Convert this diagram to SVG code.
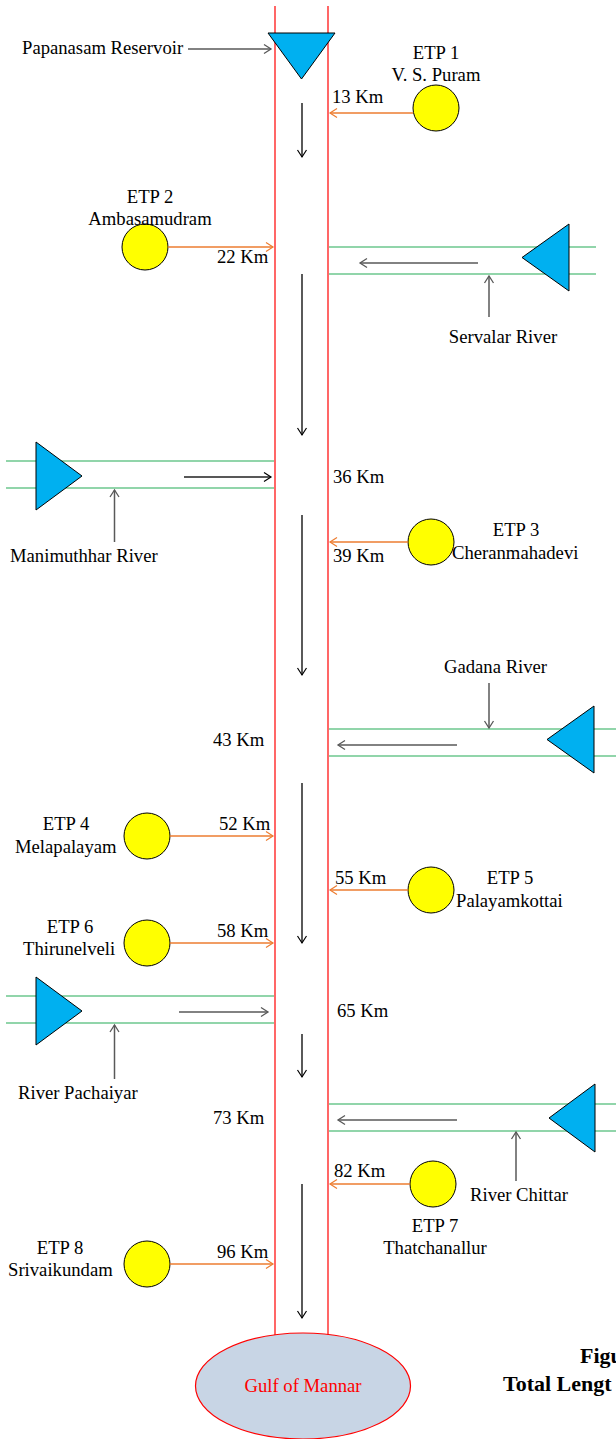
<svg xmlns="http://www.w3.org/2000/svg" width="616" height="1439" viewBox="0 0 616 1439">
<defs>
<style>
text{font-family:"Liberation Serif","Times New Roman",serif;font-size:18.67px;fill:#000}
.m{text-anchor:middle}
.b{font-weight:bold;font-size:22px}
.red{fill:none;stroke:#FF0000;stroke-width:1.2}
.grn{stroke:#6CC78E;stroke-width:1.5;fill:none}
.etp{fill:#FFFF00;stroke:#000;stroke-width:1}
.tri{fill:#00B0F0;stroke:#000;stroke-width:1}
.or{stroke:#ED7D31;stroke-width:1.3;fill:none;marker-end:url(#ao)}
.fl{stroke:#000;stroke-width:1.3;fill:none;marker-end:url(#ak)}
.gy{stroke:#595959;stroke-width:1.5;fill:none;marker-end:url(#ag)}
.bk{stroke:#202020;stroke-width:1.3;fill:none;marker-end:url(#ak)}
</style>
<marker id="ao" markerUnits="userSpaceOnUse" markerWidth="10" markerHeight="12" viewBox="-1 -6 10 12" refX="7" refY="0" orient="auto"><path d="M0,-4.5 L7,0 L0,4.5" fill="none" stroke="#ED7D31" stroke-width="1.2"/></marker>
<marker id="ak" markerUnits="userSpaceOnUse" markerWidth="10" markerHeight="12" viewBox="-1 -6 10 12" refX="7" refY="0" orient="auto"><path d="M0,-4.5 L7,0 L0,4.5" fill="none" stroke="#000" stroke-width="1.2"/></marker>
<marker id="ag" markerUnits="userSpaceOnUse" markerWidth="10" markerHeight="12" viewBox="-1 -6 10 12" refX="7" refY="0" orient="auto"><path d="M0,-4.5 L7,0 L0,4.5" fill="none" stroke="#595959" stroke-width="1.3"/></marker>
</defs>
<rect width="616" height="1439" fill="#FFFFFF"/>

<g id="river-channel">
<line class="red" x1="275" y1="6" x2="275" y2="1335"/>
<line class="red" x1="328" y1="6" x2="328" y2="1335"/>
</g>

<g id="gulf-of-mannar">
<ellipse cx="303" cy="1386" rx="107.5" ry="53" fill="#C8D5E5" stroke="#FF0000" stroke-width="1.2"/>
<text class="m" x="303" y="1392" style="fill:#FF0000">Gulf of Mannar</text>
</g>

<g id="papanasam-reservoir">
<polygon class="tri" points="268,33 335,33 301.5,79"/>
<text x="22" y="54">Papanasam Reservoir</text>
</g>

<g id="etp1">
<ellipse class="etp" cx="436" cy="108" rx="23" ry="23"/>
<text class="m" x="436" y="59">ETP 1</text>
<text class="m" x="436" y="81">V. S. Puram</text>
<text x="332" y="103">13 Km</text>
</g>

<g id="etp2">
<ellipse class="etp" cx="145" cy="247" rx="23" ry="23"/>
<text class="m" x="150" y="203">ETP 2</text>
<text class="m" x="150" y="225">Ambasamudram</text>
<text x="217" y="263">22 Km</text>
</g>

<g id="servalar-river">
<line class="grn" x1="329" y1="247" x2="596" y2="247"/>
<line class="grn" x1="329" y1="274" x2="596" y2="274"/>
<polygon class="tri" points="569,224 569,291 522,257.5"/>
<text class="m" x="503" y="343">Servalar River</text>
</g>

<g id="manimuthhar-river">
<line class="grn" x1="6" y1="461" x2="274" y2="461"/>
<line class="grn" x1="6" y1="488" x2="274" y2="488"/>
<polygon class="tri" points="36,442 36,510 82,476"/>
<text x="10" y="562">Manimuthhar River</text>
<text x="333" y="483">36 Km</text>
</g>

<g id="etp3">
<ellipse class="etp" cx="431" cy="542" rx="23" ry="23"/>
<text class="m" x="516" y="536">ETP 3</text>
<text x="452" y="559">Cheranmahadevi</text>
<text x="333" y="562">39 Km</text>
</g>

<g id="gadana-river">
<line class="grn" x1="329" y1="729" x2="616" y2="729"/>
<line class="grn" x1="329" y1="756" x2="616" y2="756"/>
<polygon class="tri" points="594,706 594,773 547,739.5"/>
<text x="444" y="673">Gadana River</text>
<text x="213" y="746">43 Km</text>
</g>

<g id="etp4">
<ellipse class="etp" cx="147" cy="836" rx="23" ry="23"/>
<text class="m" x="66" y="830">ETP 4</text>
<text x="15" y="853">Melapalayam</text>
<text x="219" y="830">52 Km</text>
</g>

<g id="etp5">
<ellipse class="etp" cx="431" cy="890" rx="23" ry="23"/>
<text class="m" x="510" y="884">ETP 5</text>
<text x="456" y="907">Palayamkottai</text>
<text x="335" y="884">55 Km</text>
</g>

<g id="etp6">
<ellipse class="etp" cx="147" cy="943" rx="23" ry="23"/>
<text class="m" x="70" y="933">ETP 6</text>
<text x="23" y="955">Thirunelveli</text>
<text x="217" y="937">58 Km</text>
</g>

<g id="river-pachaiyar">
<line class="grn" x1="6" y1="996" x2="274" y2="996"/>
<line class="grn" x1="6" y1="1023" x2="274" y2="1023"/>
<polygon class="tri" points="36,977 36,1045 82,1011"/>
<text x="18" y="1099">River Pachaiyar</text>
<text x="337" y="1017">65 Km</text>
</g>

<g id="river-chittar">
<line class="grn" x1="329" y1="1104" x2="616" y2="1104"/>
<line class="grn" x1="329" y1="1131" x2="616" y2="1131"/>
<polygon class="tri" points="595,1084 595,1152 549,1118"/>
<text x="470" y="1201">River Chittar</text>
<text x="213" y="1124">73 Km</text>
</g>

<g id="etp7">
<ellipse class="etp" cx="433" cy="1184" rx="23" ry="23"/>
<text class="m" x="435" y="1232">ETP 7</text>
<text class="m" x="435" y="1254">Thatchanallur</text>
<text x="334" y="1177">82 Km</text>
</g>

<g id="etp8">
<ellipse class="etp" cx="147" cy="1264" rx="23" ry="23"/>
<text class="m" x="60" y="1254">ETP 8</text>
<text x="8" y="1276">Srivaikundam</text>
<text x="217" y="1258">96 Km</text>
</g>

<g id="caption">
<text class="b" x="580" y="1363">Figu</text>
<text class="b" x="503" y="1391">Total Lengt</text>
</g>

<g id="connectors">
<line class="gy" x1="188" y1="49" x2="271" y2="49"/>
<line class="or" x1="413" y1="113" x2="330" y2="113"/>
<line class="fl" x1="302" y1="103" x2="302" y2="157"/>
<line class="or" x1="168" y1="247" x2="273" y2="247"/>
<line class="gy" x1="478" y1="263" x2="360" y2="263"/>
<line class="gy" x1="489" y1="317" x2="489" y2="276"/>
<line class="fl" x1="302" y1="274" x2="302" y2="435"/>
<line class="bk" x1="184" y1="477" x2="271" y2="477"/>
<line class="gy" x1="114.5" y1="542" x2="114.5" y2="490"/>
<line class="fl" x1="302" y1="515" x2="302" y2="675"/>
<line class="or" x1="408" y1="542" x2="330" y2="542"/>
<line class="gy" x1="489" y1="683" x2="489" y2="728"/>
<line class="gy" x1="457" y1="745" x2="338" y2="745"/>
<line class="fl" x1="302" y1="783" x2="302" y2="943"/>
<line class="or" x1="170" y1="836" x2="273" y2="836"/>
<line class="or" x1="408" y1="890" x2="330" y2="890"/>
<line class="or" x1="170" y1="943" x2="273" y2="943"/>
<line class="gy" x1="179" y1="1012" x2="268" y2="1012"/>
<line class="gy" x1="114.5" y1="1079" x2="114.5" y2="1025"/>
<line class="fl" x1="302" y1="1034" x2="302" y2="1077"/>
<line class="gy" x1="457" y1="1120" x2="338" y2="1120"/>
<line class="gy" x1="516" y1="1181" x2="516" y2="1132"/>
<line class="or" x1="410" y1="1184" x2="330" y2="1184"/>
<line class="fl" x1="302" y1="1184" x2="302" y2="1318"/>
<line class="or" x1="170" y1="1264" x2="273" y2="1264"/>
</g>
</svg>
